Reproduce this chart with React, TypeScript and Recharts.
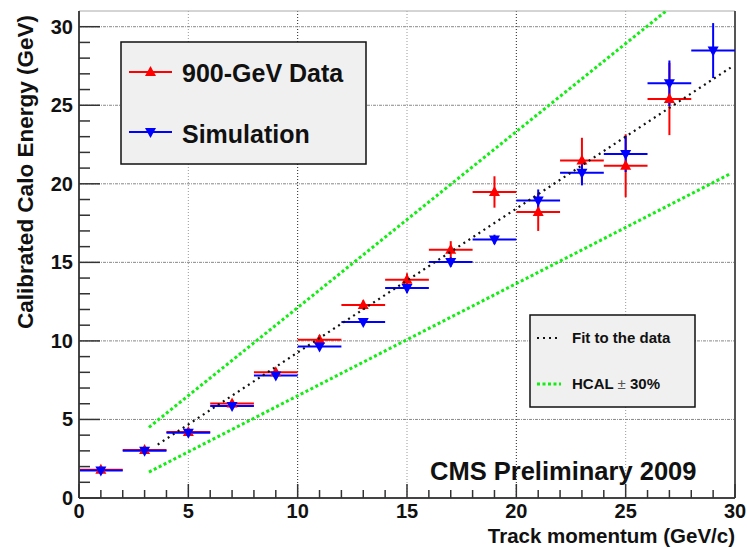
import React from 'react';
import { ComposedChart, Scatter, XAxis, YAxis, ErrorBar, ReferenceLine } from 'recharts';

// ---- data ----
const dataMomentum = [1, 3, 5, 7, 9, 11, 13, 15, 17, 19, 21, 23, 25, 27];
const dataEnergy = [1.8, 3.05, 4.2, 6.02, 8.0, 10.08, 12.28, 13.9, 15.8, 19.48, 18.2, 21.48, 21.15, 25.4];
const dataError = [0.12, 0.12, 0.15, 0.2, 0.25, 0.3, 0.3, 0.4, 0.55, 1.0, 1.2, 1.45, 2.0, 2.3];

const simMomentum = [1, 3, 5, 7, 9, 11, 13, 15, 17, 19, 21, 23, 25, 27, 29];
const simEnergy = [1.75, 3.0, 4.15, 5.85, 7.8, 9.64, 11.2, 13.37, 15.02, 16.46, 18.94, 20.7, 21.9, 26.4, 28.48];
const simError = [0.1, 0.1, 0.1, 0.15, 0.15, 0.2, 0.2, 0.3, 0.3, 0.3, 0.7, 0.8, 1.15, 1.45, 1.75];

const binHalfWidth = 1;

const fitX = [3.6, 29.8];
const fitY = [3.4, 27.4];
const hcalUpX = [3.2, 26.85];
const hcalUpY = [4.5, 31];
const hcalLowX = [3.2, 29.8];
const hcalLowY = [1.65, 20.65];

const xTickValues = Array.from({ length: 31 }, (_, i) => i);
const yTickValues = Array.from({ length: 31 }, (_, i) => i);
const gridX = [5, 10, 15, 20, 25];
const gridY = [5, 10, 15, 20, 25, 30];
const X_MAX = 30;
const Y_MAX = 31;

const dataSet = dataMomentum.map((x, i) => ({ x, y: dataEnergy[i], ex: binHalfWidth, ey: dataError[i] }));
const simSet = simMomentum.map((x, i) => ({ x, y: simEnergy[i], ex: binHalfWidth, ey: simError[i] }));
const fitSet = fitX.map((x, i) => ({ x, y: fitY[i] }));
const upSet = hcalUpX.map((x, i) => ({ x, y: hcalUpY[i] }));
const lowSet = hcalLowX.map((x, i) => ({ x, y: hcalLowY[i] }));

const FONT = '"Liberation Sans", Arial, Helvetica, sans-serif';
const RED = '#ff0000';
const BLUE = '#0000ff';
const GREEN = '#11ee11';

const UpTri = (props: any) => {
  const { cx, cy } = props;
  if (cx == null || cy == null) return <g />;
  return <path d={`M${cx},${cy - 6} L${cx - 5.5},${cy + 4} L${cx + 5.5},${cy + 4} Z`} fill={RED} />;
};
const DownTri = (props: any) => {
  const { cx, cy } = props;
  if (cx == null || cy == null) return <g />;
  return <path d={`M${cx},${cy + 6} L${cx - 5.5},${cy - 4} L${cx + 5.5},${cy - 4} Z`} fill={BLUE} />;
};
const NoShape = () => <g />;

const YTick = (props: any) => {
  const { x, y, payload } = props;
  const major = payload.value % 5 === 0;
  return (
    <g>
      <line x1={x} x2={x + (major ? 21 : 11)} y1={y} y2={y} stroke="#333" strokeWidth={1.5} />
      {major && (
        <text x={x - 6} y={y + 7} textAnchor="end" fontFamily={FONT} fontWeight="bold" fontSize={20} fill="#111">
          {payload.value}
        </text>
      )}
    </g>
  );
};

const XTick = (props: any) => {
  const { x, y, payload } = props;
  const major = payload.value % 5 === 0;
  return (
    <g>
      <line x1={x} x2={x} y1={y} y2={y - (major ? 14 : 8)} stroke="#333" strokeWidth={1.5} />
      {major && (
        <text x={x} y={y + 20} textAnchor="middle" fontFamily={FONT} fontWeight="bold" fontSize={20} fill="#111">
          {payload.value}
        </text>
      )}
    </g>
  );
};

export default function App() {
  return (
    <div style={{ position: 'absolute', left: 0, top: 0, width: 747, height: 549, background: '#fff' }}>
      <ComposedChart width={747} height={549} margin={{ top: 11, right: 12, bottom: 11, left: 19 }}>
        <XAxis
          type="number"
          dataKey="x"
          domain={[0, X_MAX]}
          allowDataOverflow
          ticks={xTickValues}
          interval={0}
          tickSize={0}
          tickMargin={0}
          tickLine={false}
          tick={<XTick />}
          height={40}
          axisLine={{ stroke: '#444', strokeWidth: 2 }}
        />
        <YAxis
          type="number"
          dataKey="y"
          domain={[0, Y_MAX]}
          allowDataOverflow
          ticks={yTickValues}
          interval={0}
          tickSize={0}
          tickMargin={0}
          tickLine={false}
          tick={<YTick />}
          width={60}
          axisLine={{ stroke: '#444', strokeWidth: 2 }}
        />
        {gridX.map((v) => (
          <ReferenceLine key={`gx${v}`} x={v} stroke={v % 10 === 0 ? '#222' : '#999'} strokeDasharray="1 2" strokeWidth={1} />
        ))}
        {gridY.map((v) => (
          <ReferenceLine key={`gy${v}`} y={v} stroke="#888" strokeDasharray="3 1 1 1" strokeWidth={1} />
        ))}
        <ReferenceLine y={Y_MAX} stroke="#aaa" strokeWidth={1} ifOverflow="visible" />
        <ReferenceLine x={X_MAX} stroke="#555" strokeWidth={2} ifOverflow="visible" />

        <Scatter data={upSet} shape={NoShape} line={{ stroke: GREEN, strokeWidth: 3, strokeDasharray: '3 2.5' }} isAnimationActive={false} />
        <Scatter data={lowSet} shape={NoShape} line={{ stroke: GREEN, strokeWidth: 3, strokeDasharray: '3 2.5' }} isAnimationActive={false} />

        <Scatter data={dataSet} shape={UpTri} isAnimationActive={false}>
          <ErrorBar dataKey="ex" direction="x" width={0} stroke={RED} strokeWidth={2} />
          <ErrorBar dataKey="ey" direction="y" width={0} stroke={RED} strokeWidth={2} />
        </Scatter>
        <Scatter data={simSet} shape={DownTri} isAnimationActive={false}>
          <ErrorBar dataKey="ex" direction="x" width={0} stroke={BLUE} strokeWidth={2} />
          <ErrorBar dataKey="ey" direction="y" width={0} stroke={BLUE} strokeWidth={2} />
        </Scatter>

        <Scatter data={fitSet} shape={NoShape} line={{ stroke: '#111', strokeWidth: 2.2, strokeDasharray: '2 4' }} isAnimationActive={false} />
      </ComposedChart>

      <svg width={747} height={549} style={{ position: 'absolute', left: 0, top: 0, pointerEvents: 'none' }}>
        {/* legend 1 */}
        <rect x={121} y={42} width={245} height={122} fill="#f0f0f0" stroke="#111" strokeWidth={1.5} />
        <line x1={129} x2={172} y1={72} y2={72} stroke={RED} strokeWidth={2} />
        <path d="M150.5,66 L145,76 L156,76 Z" fill={RED} />
        <text x={182} y={82} fontFamily={FONT} fontWeight="bold" fontSize={25} fill="#111">900-GeV Data</text>
        <line x1={129} x2={172} y1={132} y2={132} stroke={BLUE} strokeWidth={2} />
        <path d="M150.5,138 L145,128 L156,128 Z" fill={BLUE} />
        <text x={182} y={143} fontFamily={FONT} fontWeight="bold" fontSize={25} fill="#111">Simulation</text>

        {/* legend 2 */}
        <rect x={530} y={315} width={165} height={92} fill="#f0f0f0" stroke="#111" strokeWidth={1.5} />
        <line x1={537} x2={561} y1={338} y2={338} stroke="#111" strokeWidth={2.2} strokeDasharray="2 4" />
        <text x={572} y={343} fontFamily={FONT} fontWeight="bold" fontSize={15} fill="#111">Fit to the data</text>
        <line x1={537} x2={561} y1={384} y2={384} stroke={GREEN} strokeWidth={3} strokeDasharray="3 2.5" />
        <text x={572} y={389} fontFamily={FONT} fontWeight="bold" fontSize={15} fill="#111">
          HCAL <tspan fontWeight="normal" fill="#555">±</tspan> 30%
        </text>

        <text x={430} y={480} fontFamily={FONT} fontWeight="bold" fontSize={25.5} fill="#111">CMS Preliminary 2009</text>

        {/* axis titles */}
        <text x={735} y={543} textAnchor="end" fontFamily={FONT} fontWeight="bold" fontSize={20.5} fill="#111">
          Track momentum (GeV/c)
        </text>
        <text
          x={0}
          y={0}
          transform="translate(33,172) rotate(-90)"
          textAnchor="middle"
          fontFamily={FONT}
          fontWeight="bold"
          fontSize={22.5}
          fill="#111"
        >
          Calibrated Calo Energy (GeV)
        </text>
      </svg>
    </div>
  );
}
